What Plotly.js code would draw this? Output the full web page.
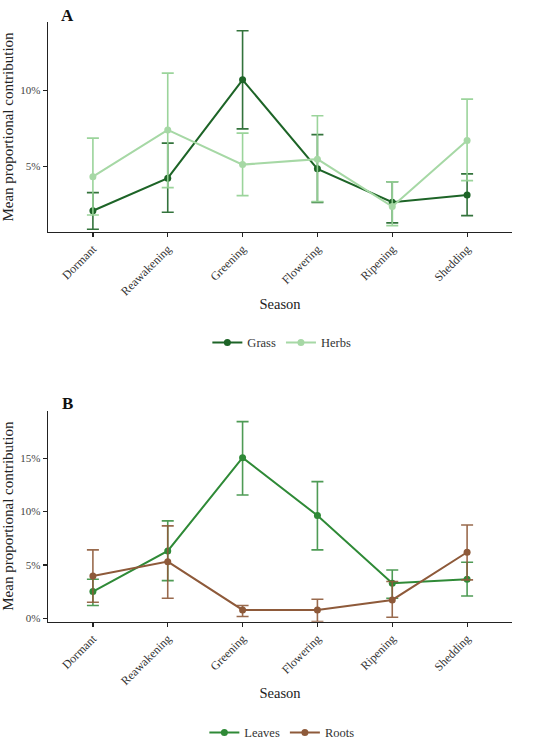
<!DOCTYPE html>
<html>
<head>
<meta charset="utf-8">
<script src="https://cdn.plot.ly/plotly-3.0.1.min.js"></script>
<style>html,body{margin:0;padding:0;background:#fff}#chart{width:550px;height:748px}</style>
</head>
<body>
<div id="chart"></div>
<script>
var seasons = ["Dormant","Reawakening","Greening","Flowering","Ripening","Shedding"];

// Panel A (percent)
var grassMean  = [2.10, 4.24, 10.70, 4.85, 2.66, 3.14];
var grassUpper = [3.29, 6.54, 13.93, 7.10, 4.00, 4.52];
var grassLower = [0.88, 2.00, 7.48, 2.65, 1.30, 1.78];
var herbsMean  = [4.34, 7.41, 5.13, 5.49, 2.37, 6.71];
var herbsUpper = [6.87, 11.14, 7.20, 8.34, 4.00, 9.43];
var herbsLower = [1.82, 3.62, 3.09, 2.70, 1.12, 4.08];

// Panel B (percent)
var leavesMean  = [2.50, 6.31, 15.06, 9.63, 3.28, 3.66];
var leavesUpper = [3.66, 9.13, 18.44, 12.81, 4.53, 5.25];
var leavesLower = [1.19, 3.53, 11.56, 6.41, 1.88, 2.09];
var rootsMean   = [3.97, 5.31, 0.78, 0.78, 1.72, 6.19];
var rootsUpper  = [6.41, 8.66, 1.19, 1.78, 3.44, 8.75];
var rootsLower  = [1.50, 1.88, 0.16, -0.30, 0.09, 3.60];

var tickValsA = [5, 10];
var tickTextA = ["5%", "10%"];
var tickValsB = [0, 5, 10, 15];
var tickTextB = ["0%", "5%", "10%", "15%"];

function diff(a, b){ return a.map(function(v,i){ return Math.abs(v - b[i]); }); }

function series(name, mean, up, lo, color, errColor, xa, ya, leg){
  return {
    type: 'scatter', mode: 'lines+markers', name: name,
    x: seasons, y: mean, xaxis: xa, yaxis: ya, legend: leg,
    line: {color: color, width: 2},
    marker: {color: color, size: 7},
    error_y: {type: 'data', symmetric: false, array: diff(up, mean), arrayminus: diff(mean, lo),
              color: errColor, thickness: 1.6, width: 6}
  };
}

var cGrass = '#1d6427', cHerbs = '#a6d8a5', cLeaves = '#2f8a37', cRoots = '#8e5a3a';

var data = [
  series('Grass', grassMean, grassUpper, grassLower, cGrass, 'rgba(29,100,39,0.9)', 'x', 'y', 'legend'),
  series('Herbs', herbsMean, herbsUpper, herbsLower, cHerbs, 'rgba(150,210,150,0.95)', 'x', 'y', 'legend'),
  series('Leaves', leavesMean, leavesUpper, leavesLower, cLeaves, 'rgba(47,138,55,0.85)', 'x2', 'y2', 'legend2'),
  series('Roots', rootsMean, rootsUpper, rootsLower, cRoots, 'rgba(142,90,58,0.9)', 'x2', 'y2', 'legend2')
];

var fontFam = '"Liberation Serif", "Times New Roman", serif';
var axX = {
  type: 'category', range: [-0.6, 5.6], showline: true, linecolor: '#222', linewidth: 1.3,
  ticks: 'outside', ticklen: 4, tickcolor: '#222', tickwidth: 1.2, tickangle: -45,
  showgrid: false, zeroline: false, automargin: false, tickfont: {family: fontFam, size: 12, color: '#333'},
  title: {text: 'Season', font: {family: fontFam, size: 14.5, color: '#222'}, standoff: 1}
};
function clone(o){ return JSON.parse(JSON.stringify(o)); }
var x1 = clone(axX); x1.anchor = 'y';
var x2 = clone(axX); x2.anchor = 'y2';

var axY = {
  showline: true, linecolor: '#222', linewidth: 1.3, ticks: 'outside', ticklen: 4,
  tickcolor: '#222', tickwidth: 1.2, showgrid: false, zeroline: false, automargin: false,
  tickfont: {family: fontFam, size: 11, color: '#444'},
  title: {text: 'Mean proportional contribution', font: {family: fontFam, size: 15, color: '#222'}, standoff: 3}
};
var y1 = clone(axY); y1.anchor = 'x'; y1.domain = [0.7107, 1]; y1.range = [0.7, 14.5];
y1.tickmode = 'array'; y1.tickvals = tickValsA; y1.ticktext = tickTextA;
var y2 = clone(axY); y2.anchor = 'x2'; y2.domain = [0.174, 0.4646]; y2.range = [-0.32, 19.46];
y2.tickmode = 'array'; y2.tickvals = tickValsB; y2.ticktext = tickTextB;

var legBase = {orientation: 'h', xanchor: 'center', yanchor: 'middle', x: 0.504,
  font: {family: fontFam, size: 12.5, color: '#333'}, bgcolor: 'rgba(0,0,0,0)'};
var leg1 = clone(legBase); leg1.y = 0.5579;
var leg2 = clone(legBase); leg2.y = 0.0207;

var layout = {
  width: 550, height: 748,
  margin: {l: 48, r: 38, t: 22, b: 0},
  paper_bgcolor: '#fff', plot_bgcolor: '#fff',
  showlegend: true,
  xaxis: x1, yaxis: y1, xaxis2: x2, yaxis2: y2,
  legend: leg1, legend2: leg2,
  annotations: [
    {text: '<b>A</b>', xref: 'paper', yref: 'paper', x: 0.043, y: 1.0096, xanchor: 'center', yanchor: 'middle',
     showarrow: false, font: {family: fontFam, size: 17, color: '#111'}},
    {text: '<b>B</b>', xref: 'paper', yref: 'paper', x: 0.043, y: 0.4752, xanchor: 'center', yanchor: 'middle',
     showarrow: false, font: {family: fontFam, size: 17, color: '#111'}}
  ]
};

Plotly.newPlot('chart', data, layout, {displayModeBar: false, staticPlot: true});
</script>
</body>
</html>
